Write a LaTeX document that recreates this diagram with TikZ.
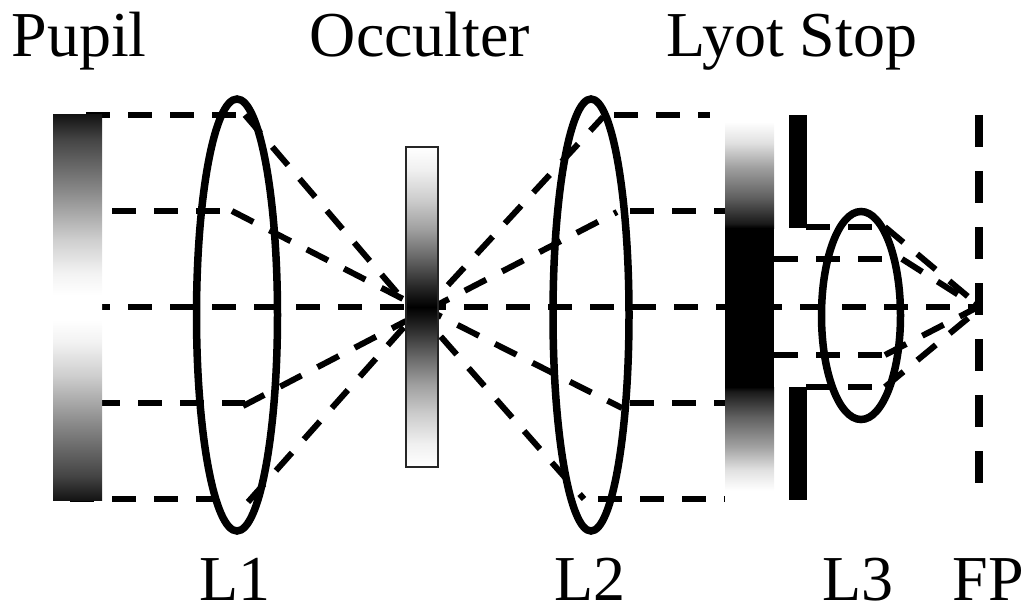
\documentclass[tikz,border=0pt]{standalone}
\usepackage{fontspec}
\setmainfont{Liberation Serif}
\usepackage{xcolor}
\usepackage{tikz}
\usetikzlibrary{positioning}

\pgfdeclareverticalshading{pupilfade}{100bp}{
  color(0bp)=(white!8!black); color(25bp)=(white!8!black); color(28.2bp)=(white!27!black);
  color(34.7bp)=(white!53!black); color(41.2bp)=(white!81!black); color(45.5bp)=(white!95!black);
  color(48.4bp)=(white); color(51.6bp)=(white); color(54.5bp)=(white!95!black);
  color(58.8bp)=(white!81!black); color(65.3bp)=(white!53!black); color(71.8bp)=(white!27!black);
  color(75bp)=(white!8!black); color(100bp)=(white!8!black)}
\pgfdeclareverticalshading{occulterfade}{100bp}{
  color(0bp)=(white); color(25bp)=(white); color(28.6bp)=(white!94!black);
  color(33.3bp)=(white!80!black); color(38bp)=(white!62!black); color(42.7bp)=(white!38!black);
  color(47.3bp)=(white!13!black); color(50bp)=(black);
  color(52.7bp)=(white!13!black); color(57.3bp)=(white!38!black); color(62bp)=(white!62!black);
  color(66.7bp)=(white!80!black); color(71.4bp)=(white!94!black); color(75bp)=(white); color(100bp)=(white)}
\pgfdeclareverticalshading{lyotfade}{100bp}{
  color(0bp)=(black); color(25bp)=(black); color(27bp)=(white!10!black); color(38.7bp)=(white!38!black);
  color(52bp)=(white!63!black); color(62.6bp)=(white!88!black); color(72bp)=(white); color(100bp)=(white)}

\tikzset{
  ray/.style={line width=6pt, dash pattern=on 24pt off 18pt},
  lens/.style={line width=7.5pt},
  label/.style={font=\fontsize{64}{70}\selectfont, inner sep=0pt, anchor=base}
}

\begin{document}
\begin{tikzpicture}[x=1pt,y=-1pt]
\useasboundingbox (0,0) rectangle (1025,604);
\foreach \id/\xa/\ya/\xb/\yb in {
  a/86/115/236/115, b/112/211/220/211, c/86/307/978/307, d/96/403/245/403, e/70/499/218/499,
  f/245/115/405/302, g/232/211/405/300, h/243/406/406/321, i/248/502/405/326,
  j/419.5/316/603/117, k/427.5/310/617/212, m/420/306/622/408, n/413/305/584/499,
  o/614/115/710/115, p/630/211/725/211, q/630/403/725/403, r/598/499/725/499,
  s/806/227/872/227, t/774/259/882/259, u/774/355/882/355, v/806/387/872/387,
  w/885/227/978/305, x/902/259/976/306, y/885/355/978/307, z/885/387/978/310}{
  \coordinate (\id1) at (\xa,\ya);
  \coordinate (\id2) at (\xb,\yb);
  \draw[ray] (\id1) -- (\id2);
}
\shade[shading=pupilfade] (53,115) rectangle (102,500);
\shadedraw[shading=occulterfade, draw=black!85, line width=1.5pt] (406,147) rectangle (438,467);
\shade[shading=lyotfade] (725,115) rectangle (774,228);
\fill[black] (725,228) rectangle (774,387);
\shade[shading=lyotfade, shading angle=180] (725,387) rectangle (774,497);
\fill[black] (789,115) rectangle (806.5,228);
\fill[black] (789,387) rectangle (806.5,500);
\draw[line width=8pt, dash pattern=on 32pt off 24pt] (979,115) -- (979,483);
\draw[lens] (237,315) ellipse (40.5 and 216);
\draw[lens] (591,315) ellipse (38 and 216);
\draw[lens] (861,315.5) ellipse (39.5 and 104);
\node[label] (pupil) at (79,57) {Pupil};
\node[label] (occulter) at (420,57) {Occulter};
\node[label] (lyot) at (792,57) {Lyot Stop};
\node[label] (lone) at (235,600) {L1};
\node[label] (ltwo) at (590,600) {L2};
\node[label] (lthree) at (858,600) {L3};
\node[label] (fp) at (988,600) {FP};
\end{tikzpicture}
\end{document}
